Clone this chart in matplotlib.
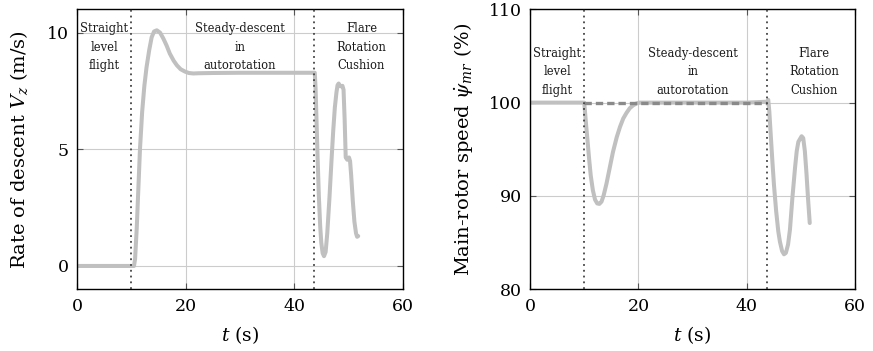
import numpy as np
import matplotlib.pyplot as plt

plt.rcParams['font.family'] = 'DejaVu Serif'
plt.rcParams['mathtext.fontset'] = 'dejavuserif'

# rate of descent (left panel)
t_vz = [0, 10.5, 10.7, 11.0, 11.3, 11.6, 12.0, 12.4, 12.8, 13.3, 13.75, 14.2, 14.7,
        15.3, 15.9, 16.5, 17.1, 17.8, 18.4, 19.1, 19.9, 20.6, 21.4, 22.5, 25.0,
        30.0, 35.0, 40.0, 43.8, 43.95, 44.1, 44.3, 44.55, 44.8, 45.0, 45.25, 45.5,
        45.8, 46.1, 46.5, 46.9, 47.2, 47.5, 47.8, 48.0, 48.2, 48.5, 48.9, 49.1,
        49.3, 49.5, 49.8, 50.1, 50.3, 50.5, 50.8, 51.1, 51.4, 51.6, 51.8]
vz = [0, 0, 0.3, 1.6, 3.3, 5.0, 6.6, 7.7, 8.5, 9.25, 9.8, 10.05, 10.1,
      10.0, 9.75, 9.45, 9.1, 8.8, 8.6, 8.43, 8.33, 8.27, 8.25, 8.26, 8.27,
      8.28, 8.28, 8.28, 8.28, 7.6, 6.4, 4.8, 3.0, 1.7, 1.0, 0.55, 0.42,
      0.6, 1.4, 2.9, 4.6, 5.8, 6.8, 7.45, 7.75, 7.82, 7.7, 7.72, 7.55,
      6.3, 4.65, 4.55, 4.65, 4.5, 3.9, 2.8, 1.9, 1.4, 1.25, 1.28]

# main-rotor speed (right panel)
t_psi = [0, 10.0, 10.15, 10.35, 10.6, 10.9, 11.2, 11.6, 12.0, 12.4, 12.8, 13.2, 13.6,
         14.1, 14.7, 15.3, 16.0, 16.6, 17.2, 17.8, 18.4, 19.0, 19.6, 20.2, 25.0,
         30.0, 35.0, 40.0, 43.7, 43.95, 44.15, 44.4, 44.7, 45.0, 45.4, 45.8, 46.1,
         46.5, 46.85, 47.2, 47.6, 47.95, 48.4, 48.9, 49.2, 49.5, 49.8, 50.1, 50.4,
         50.7, 51.0, 51.3, 51.6]
psi = [100, 100, 99.0, 97.6, 96.0, 94.0, 92.2, 90.6, 89.6, 89.2, 89.15, 89.4, 90.1,
       91.3, 93.0, 94.7, 96.3, 97.4, 98.3, 98.9, 99.4, 99.7, 99.9, 100, 100,
       100, 100, 100, 100.1, 100.3, 99.0, 96.6, 93.8, 91.2, 88.4, 86.2, 85.1,
       84.1, 83.75, 83.9, 84.8, 86.4, 89.8, 93.1, 94.8, 95.8, 96.1, 96.4, 96.2,
       94.8, 92.4, 89.6, 87.1]

# reference (nominal) rotor speed
t_ref = [10, 43.8]
psi_ref = [100, 100]

phases = ["Straight\nlevel\nflight", "Steady-descent\nin\nautorotation",
          "Flare\nRotation\nCushion"]
phase_x = [5.0, 30.0, 52.4]
phase_lines = [10, 43.7]

curve_color = "#c0c0c0"

fig = plt.figure(figsize=(8.73, 3.51), dpi=100)
ax1 = fig.add_axes([0.0882, 0.1758, 0.3731, 0.7977])
ax2 = fig.add_axes([0.6071, 0.1758, 0.3726, 0.7977])

for ax in [ax1, ax2]:
    ax.grid(True, color="#cccccc", linewidth=0.8)
    ax.set_axisbelow(True)
    ax.tick_params(direction="in", length=4, top=True, right=True,
                   color="#555555", labelsize=12.5, pad=6)
    for sp in ax.spines.values():
        sp.set_linewidth(1.0)
    for xl in phase_lines:
        ax.axvline(xl, color="#444444", linestyle=(0, (1, 2.2)), linewidth=1.3, zorder=3)
    ax.set_xlim(0, 60)
    ax.set_xticks([0, 20, 40, 60])
    ax.set_xlabel("$t$ (s)", fontsize=13.5, labelpad=7)

ax1.plot(t_vz, vz, color=curve_color, linewidth=2.9, zorder=2,
         solid_joinstyle="round", solid_capstyle="round")
ax1.set_ylim(-1, 11)
ax1.set_yticks([0, 5, 10])
ax1.set_ylabel("Rate of descent $V_z$ (m/s)", fontsize=14, labelpad=12)
for lab, x in zip(phases, phase_x):
    ax1.text(x, 10.45, lab, ha="center", va="top", fontsize=8.3,
             linespacing=1.55, color="#1a1a1a", zorder=4)

ax2.plot(t_psi, psi, color=curve_color, linewidth=2.9, zorder=2,
         solid_joinstyle="round", solid_capstyle="round")
ax2.plot(t_ref, psi_ref, color="#8a8a8a", linewidth=2.4, linestyle=(0, (2.2, 1.2)), zorder=2.5)
ax2.set_ylim(80, 110)
ax2.set_yticks([80, 90, 100, 110])
ax2.set_ylabel(r"Main-rotor speed $\dot{\psi}_{mr}$ (%)", fontsize=14, labelpad=10)
for lab, x in zip(phases, phase_x):
    ax2.text(x, 106.0, lab, ha="center", va="top", fontsize=8.3,
             linespacing=1.55, color="#1a1a1a", zorder=4)

plt.savefig("out.png", dpi=100)
